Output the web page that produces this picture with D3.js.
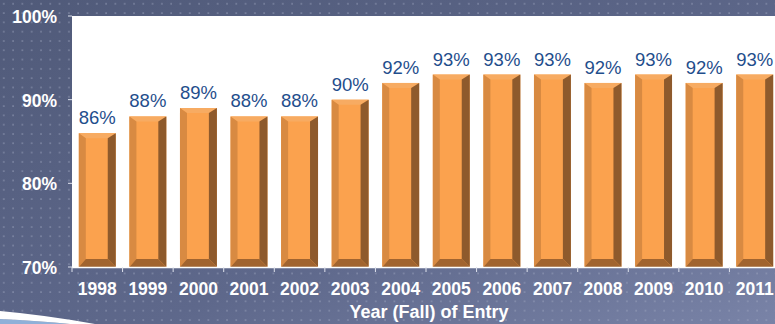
<!DOCTYPE html>
<html><head><meta charset="utf-8">
<script src="https://cdn.jsdelivr.net/npm/d3@7"></script>
<style>body{margin:0;overflow:hidden;}svg{display:block;}</style>
</head><body>
<svg id="c" width="775" height="324"></svg>
<script>
const years = ["1998","1999","2000","2001","2002","2003","2004","2005","2006","2007","2008","2009","2010","2011"];
const rates = [86,88,89,88,88,90,92,93,93,93,92,93,92,93];
const yTicks = [70,80,90,100];
const axisTitle = "Year (Fall) of Entry";

const W = 775, H = 324;
const FONT = "Liberation Sans, Arial, sans-serif";
const svg = d3.select("#c");
const defs = svg.append("defs");
const bg = defs.append("linearGradient").attr("id","bg").attr("x1","0").attr("y1","0").attr("x2","1").attr("y2","1");
bg.append("stop").attr("offset","0").attr("stop-color","#505a79");
bg.append("stop").attr("offset","0.6").attr("stop-color","#5e688b");
bg.append("stop").attr("offset","1").attr("stop-color","#7983a7");
const pat = defs.append("pattern").attr("id","dots").attr("width",9.3).attr("height",9.3).attr("patternUnits","userSpaceOnUse");
pat.append("rect").attr("x",3).attr("y",3).attr("width",1.6).attr("height",1.6).attr("fill","#a3abc4").attr("opacity",0.5);

svg.append("rect").attr("width",W).attr("height",H).attr("fill","url(#bg)");
svg.append("rect").attr("width",W).attr("height",H).attr("fill","url(#dots)");
// bottom-left swoosh
svg.append("path").attr("d","M0,324 L0,319 Q40,321 70,324 Z").attr("fill","#8fb0d8");
svg.append("path").attr("d","M0,311 Q45,315 95,324 L70,324 Q40,321 0,319 Z").attr("fill","#ffffff");

const m = {l:72, r:780, t:16, b:267};
const x = d3.scaleBand().domain(years).range([m.l, m.r]).paddingInner(0.27).paddingOuter(0.135);
const y = d3.scaleLinear().domain([70,100]).range([m.b, m.t]);

svg.append("rect").attr("x",m.l).attr("y",m.t).attr("width",W-m.l).attr("height",m.b-m.t).attr("fill","#ffffff");

// bars with bevel
const bw = x.bandwidth();
const g = svg.append("g");
years.forEach((yr,i)=>{
  const x0 = x(yr), x1 = x0+bw, y0 = y(rates[i]), y1 = y(70);
  const bl = 7, br = 8, bt = 5, bb = 8;
  const bar = g.append("g");
  bar.append("rect").attr("x",x0).attr("y",y0).attr("width",bw).attr("height",y1-y0).attr("fill","#fba24e");
  bar.append("path").attr("d",`M${x0},${y0} L${x1},${y0} L${x1-br},${y0+bt} L${x0+bl},${y0+bt} Z`).attr("fill","#f7ab62");
  bar.append("path").attr("d",`M${x0},${y0} L${x0+bl},${y0+bt} L${x0+bl},${y1-bb} L${x0},${y1} Z`).attr("fill","#d88a42");
  bar.append("path").attr("d",`M${x1},${y0} L${x1},${y1} L${x1-br},${y1-bb} L${x1-br},${y0+bt} Z`).attr("fill","#8e5a2c");
  bar.append("path").attr("d",`M${x0},${y1} L${x0+bl},${y1-bb} L${x1-br},${y1-bb} L${x1},${y1} Z`).attr("fill","#a1642f");
  g.append("text").attr("x",x0+bw/2).attr("y",y0-9).attr("text-anchor","middle")
    .attr("font-family",FONT).attr("font-size",18.5).attr("fill","#1f4e8c")
    .text(rates[i]+"%");
});

// x axis line and ticks
svg.append("line").attr("x1",m.l).attr("x2",W).attr("y1",m.b+0.5).attr("y2",m.b+0.5).attr("stroke","#ffffff").attr("stroke-width",1.5);
years.forEach((yr,i)=>{
  const xb = x(yr) - x.step()*x.paddingInner()/2;
  svg.append("line").attr("x1",xb).attr("x2",xb).attr("y1",m.b).attr("y2",m.b+5).attr("stroke","#dfe3ee").attr("stroke-width",1);
});
yTicks.forEach(t=>{
  svg.append("line").attr("x1",m.l-4).attr("x2",m.l).attr("y1",y(t)).attr("y2",y(t)).attr("stroke","#dfe3ee");
  svg.append("text").attr("x",m.l-15).attr("y",y(t)+7).attr("text-anchor","end")
    .attr("font-family",FONT).attr("font-weight","bold").attr("font-size",17.5).attr("fill","#ffffff")
    .text(t+"%");
});
years.forEach(yr=>{
  svg.append("text").attr("x",x(yr)+bw/2).attr("y",295).attr("text-anchor","middle")
    .attr("font-family",FONT).attr("font-weight","bold").attr("font-size",17.5).attr("fill","#ffffff")
    .text(yr);
});
svg.append("text").attr("x",429).attr("y",318).attr("text-anchor","middle")
  .attr("font-family",FONT).attr("font-weight","bold").attr("font-size",18).attr("fill","#ffffff")
  .text(axisTitle);
</script>
</body></html>
